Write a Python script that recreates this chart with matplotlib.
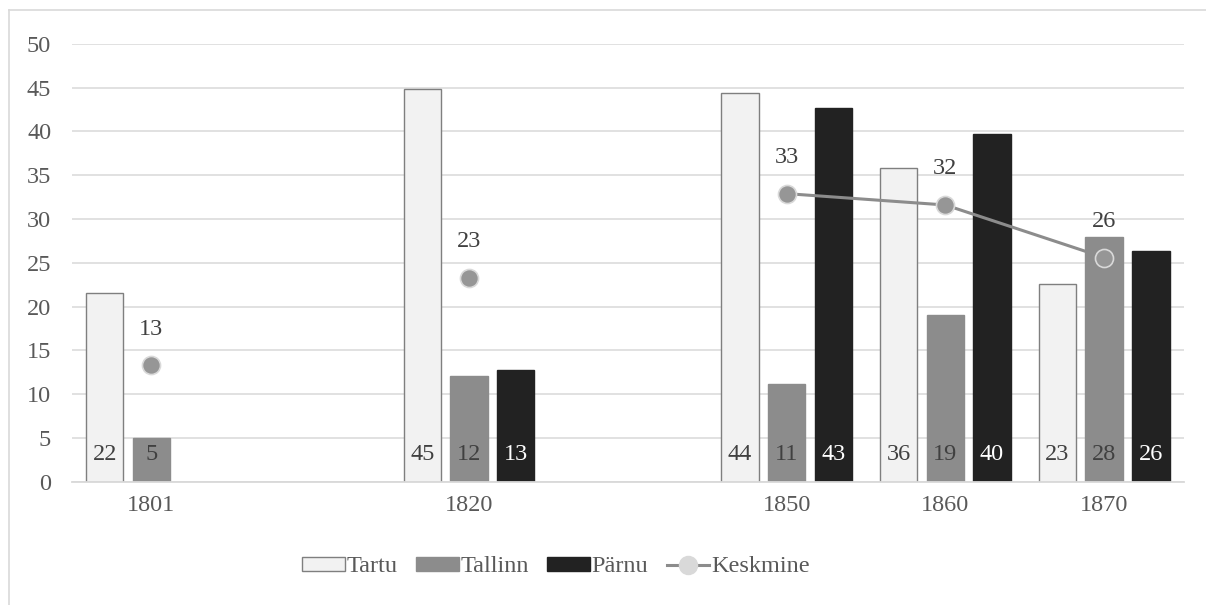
import numpy as np
import matplotlib.pyplot as plt
from matplotlib.lines import Line2D

# categories (empty slots keep the spacing of the original chart)
years = ["1801", "", "1820", "", "1850", "1860", "1870"]
tartu = [21.6, np.nan, 44.8, np.nan, 44.4, 35.8, 22.6]
tallinn = [4.95, np.nan, 12.1, np.nan, 11.2, 19.0, 27.9]
parnu = [np.nan, np.nan, 12.8, np.nan, 42.7, 39.7, 26.4]
keskmine = [13.3, np.nan, 23.3, np.nan, 32.9, 31.6, 25.6]

plt.rcParams['font.family'] = ['Liberation Serif', 'DejaVu Serif']

fig = plt.figure(figsize=(12.06, 6.05), dpi=100)
ax = fig.add_axes([0.0597, 0.2041, 0.9217, 0.7232])

x = np.arange(len(years))
step = 0.294
w = 0.236
fs = 17.5

series = [
    ("Tartu", tartu, "#f2f2f2", "#7f7f7f", "#404040"),
    ("Tallinn", tallinn, "#8c8c8c", "#8c8c8c", "#404040"),
    ("Pärnu", parnu, "#222222", "#222222", "white"),
]
handles = []
for i, (name, vals, fc, ec, tc) in enumerate(series):
    xs = x + (i - 1) * step
    b = ax.bar(xs, vals, w, color=fc, edgecolor=ec, linewidth=1.0, label=name, zorder=2)
    handles.append(b)
    for xi, v in zip(xs, vals):
        if not np.isnan(v):
            ax.annotate(f"{round(v)}", (xi, 0), xytext=(0, 12), textcoords="offset points",
                        ha="center", va="bottom", fontsize=fs, color=tc, zorder=4)

ax.plot(x, keskmine, color="#8c8c8c", lw=2.2, marker="o", markersize=13,
        markerfacecolor="#969696", markeredgecolor="#d9d9d9", markeredgewidth=1.2,
        zorder=3)
for xi, v in zip(x, keskmine):
    if not np.isnan(v):
        ax.annotate(f"{round(v)}", (xi, v), xytext=(0, 26), textcoords="offset points",
                    ha="center", va="center", fontsize=fs, color="#404040", zorder=4)
handles.append(Line2D([], [], color="#8c8c8c", lw=2.2, marker="o", markersize=13,
                      markerfacecolor="#d9d9d9", markeredgecolor="#d9d9d9"))

ax.set_xlim(-0.5, 6.5)
ax.set_ylim(0, 50)
ax.set_yticks(range(0, 51, 5))
ax.set_xticks(x)
ax.set_xticklabels(years)
ax.yaxis.grid(True, color="#d9d9d9", lw=1.1, zorder=0)
ax.set_axisbelow(True)
for s in ["top", "right", "left"]:
    ax.spines[s].set_visible(False)
ax.spines["bottom"].set_color("#d9d9d9")
ax.spines["bottom"].set_linewidth(1.3)
ax.tick_params(axis="both", length=0, labelsize=fs, labelcolor="#595959")
ax.tick_params(axis="y", pad=15)
ax.tick_params(axis="x", pad=10)

fig.legend(handles, ["Tartu", "Tallinn", "Pärnu", "Keskmine"], loc="center",
           bbox_to_anchor=(556 / 1206, 1 - 567 / 605), ncol=4,
           frameon=False, fontsize=fs, handlelength=1.75, handleheight=0.5,
           handletextpad=0.08, columnspacing=0.75, labelcolor="#595959")

# outer chart border (only top and left visible)
fig.add_artist(plt.Line2D([9 / 1206, 1], [1 - 10 / 605, 1 - 10 / 605], color="#d9d9d9", lw=1.2))
fig.add_artist(plt.Line2D([9 / 1206, 9 / 1206], [0, 1 - 10 / 605], color="#d9d9d9", lw=1.2))

fig.savefig("out.png", dpi=100)
